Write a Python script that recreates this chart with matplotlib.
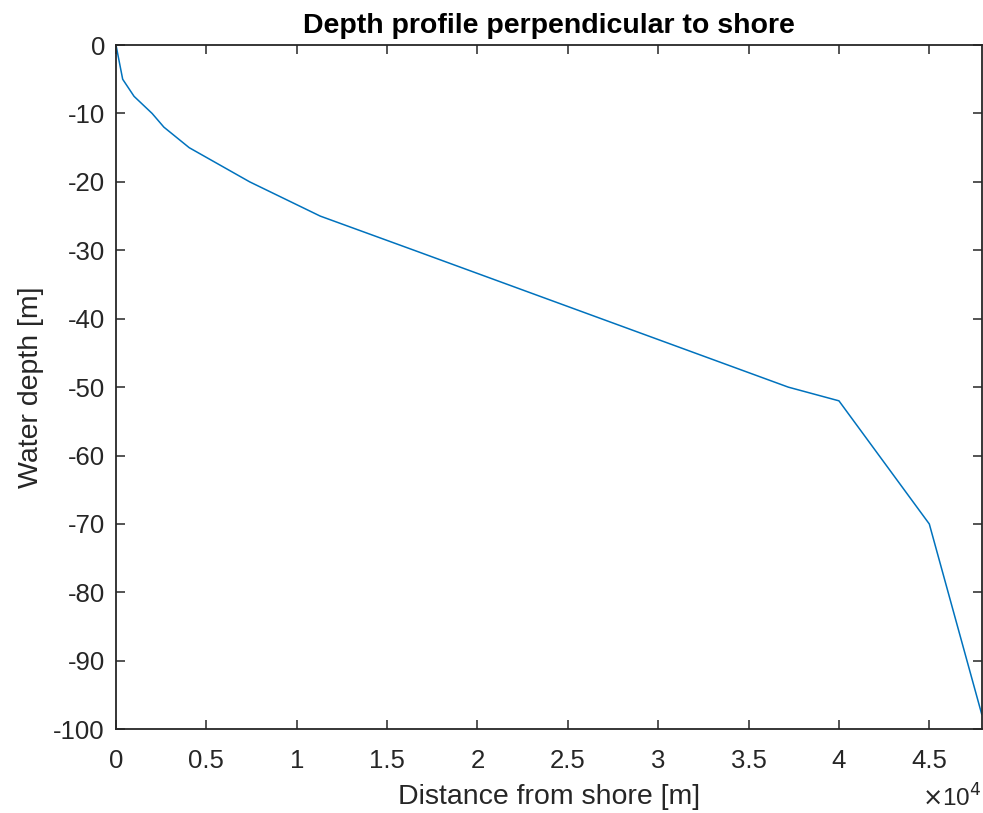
import numpy as np
import matplotlib
matplotlib.use("Agg")
import matplotlib.pyplot as plt
from matplotlib.ticker import FuncFormatter

# profile points
distance = [0, 370, 1000, 2000, 2650, 4050, 7400, 11300, 16500, 37200, 40000, 45000, 47900]
depth = [0, -5, -7.5, -10, -12, -15, -20, -25, -30, -50, -52, -70, -97.8]

x_ticks = [0, 5000, 10000, 15000, 20000, 25000, 30000, 35000, 40000, 45000]
y_ticks = [0, -10, -20, -30, -40, -50, -60, -70, -80, -90, -100]

plt.rcParams['font.family'] = ['Liberation Sans', 'DejaVu Sans']
plt.rcParams['axes.unicode_minus'] = False

dark = '#262626'

fig = plt.figure(figsize=(9.83, 8.13), dpi=100)
ax = fig.add_axes([0.118, 0.103, 0.8807, 0.8416])

ax.plot(distance, depth, color='#0072BD', lw=1.1)

ax.set_xlim(0, max(distance))
ax.set_ylim(-100, 0)
ax.set_xticks(x_ticks)
ax.set_yticks(y_ticks)
ax.xaxis.set_major_formatter(FuncFormatter(lambda v, p: '%g' % (v / 1e4)))
ax.yaxis.set_major_formatter(FuncFormatter(lambda v, p: '%g' % v))

ax.tick_params(direction='in', length=6.5, width=1.1, colors=dark,
               labelsize=18.5, top=True, right=True)
ax.tick_params(axis='x', pad=14)
ax.tick_params(axis='y', pad=8)
for s in ax.spines.values():
    s.set_color(dark)
    s.set_linewidth(1.3)

ax.set_xlabel('Distance from shore [m]', fontsize=20.5, color=dark, labelpad=8)
ax.set_ylabel('Water depth [m]', fontsize=20.5, color=dark, labelpad=6.5)
ax.set_title('Depth profile perpendicular to shore', fontsize=20.5, fontweight='bold',
             color='black', pad=9)

ax.text(1.0, -0.081, r'$\times$10$^{4}$', transform=ax.transAxes, ha='right', va='top',
        fontsize=17.5, color=dark)

fig.savefig('out.png', dpi=100, facecolor='white')
